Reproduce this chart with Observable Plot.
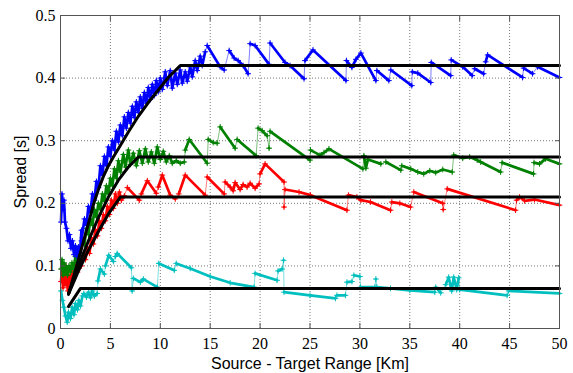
<!DOCTYPE html>
<html>
<head>
<meta charset="utf-8">
<script src="https://cdn.jsdelivr.net/npm/d3@7"></script>
<script src="https://cdn.jsdelivr.net/npm/@observablehq/plot@0.6"></script>
<style>
  html, body { margin: 0; padding: 0; background: #fff; }
  #chart svg { display: block; }
  g[aria-label="x-axis label"] text, g[aria-label="y-axis label"] text { font-family: "Liberation Sans", Arial, sans-serif; font-size: 16px; }
</style>
</head>
<body>
<div id="chart"></div>
<script>
const xTicks = [0, 5, 10, 15, 20, 25, 30, 35, 40, 45, 50];
const yTicks = [0, 0.1, 0.2, 0.3, 0.4, 0.5];

// Measured series, as runs of [range km, spread s]
const blueRuns = [
  [[0.05,0.17],[0.15,0.215],[0.25,0.19],[0.35,0.205],[0.45,0.17],[0.6,0.16],[0.75,0.14],[0.9,0.15],[1.05,0.128],[1.2,0.14],[1.35,0.118],[1.5,0.132],[1.65,0.115],[1.8,0.13],[1.95,0.12],[2.1,0.157]],
  [[2.1,0.14],[2.4,0.175],[2.6,0.165],[2.8,0.195],[3.0,0.185],[3.2,0.215],[3.4,0.205],[3.6,0.235],[3.8,0.225],[4.0,0.26],[4.2,0.245],[4.4,0.275],[4.6,0.26],[4.8,0.29],[5.0,0.275],[5.2,0.3],[5.4,0.285],[5.6,0.315],[5.8,0.298],[6.0,0.325],[6.2,0.308],[6.4,0.338],[6.6,0.32],[6.8,0.345],[7.0,0.328],[7.2,0.355],[7.4,0.337],[7.6,0.362],[7.8,0.345],[8.0,0.37],[8.2,0.352],[8.4,0.377],[8.6,0.36],[8.8,0.385],[9.0,0.366],[9.2,0.39],[9.4,0.372],[9.6,0.396],[9.8,0.378],[10.0,0.4],[10.2,0.382],[10.5,0.41],[10.7,0.388],[11.0,0.412],[11.2,0.384],[11.5,0.408],[11.7,0.39],[12.0,0.413],[12.2,0.392],[12.5,0.41],[12.7,0.395],[13.0,0.418],[13.2,0.402],[13.5,0.428],[13.7,0.412],[14.0,0.435],[14.2,0.42],[14.5,0.442]],
  [[14.7,0.452],[16.0,0.418],[16.4,0.413]],
  [[16.9,0.444],[17.4,0.432],[17.8,0.428],[18.3,0.42],[18.8,0.407]],
  [[19.0,0.455],[19.5,0.452],[20.9,0.422]],
  [[21.0,0.456],[22.5,0.425],[23.0,0.42],[24.4,0.399]],
  [[24.5,0.428],[25.3,0.445],[28.6,0.396]],
  [[28.65,0.428],[29.2,0.417],[29.6,0.43],[30.1,0.44],[31.6,0.396]],
  [[31.7,0.412],[32.9,0.396]],
  [[33.1,0.413],[35.2,0.388]],
  [[35.25,0.41],[35.8,0.408],[37.1,0.393]],
  [[37.15,0.425],[39.1,0.404]],
  [[39.15,0.429],[40.3,0.418],[41.25,0.404]],
  [[41.5,0.415],[42.4,0.407]],
  [[42.6,0.426],[42.8,0.437],[46.3,0.401]],
  [[46.4,0.416],[47.3,0.407]],
  [[47.8,0.418],[50,0.401]]
];
const greenRuns = [
  [[0.05,0.095],[0.15,0.11],[0.25,0.085],[0.35,0.105],[0.45,0.088],[0.55,0.1],[0.7,0.085],[0.85,0.1],[1.0,0.09],[1.15,0.105],[1.3,0.095],[1.5,0.115],[1.65,0.105],[1.8,0.13],[2.0,0.12],[2.2,0.145],[2.4,0.135],[2.6,0.16],[2.8,0.15],[3.0,0.175],[3.2,0.165],[3.4,0.19],[3.6,0.178],[3.8,0.2],[4.0,0.19],[4.2,0.215],[4.4,0.203],[4.6,0.228],[4.8,0.215],[5.0,0.24],[5.2,0.228],[5.4,0.255],[5.6,0.24],[5.8,0.268],[6.0,0.25],[6.3,0.278],[6.5,0.258],[6.8,0.285],[7.0,0.262],[7.3,0.28],[7.6,0.26],[7.9,0.284],[8.2,0.264],[8.5,0.287],[8.8,0.266],[9.1,0.282],[9.4,0.264],[9.7,0.29],[10.0,0.27],[10.3,0.283],[10.6,0.266],[10.9,0.276],[11.2,0.264],[11.6,0.268],[12.0,0.264],[12.4,0.266]],
  [[12.5,0.285],[12.9,0.302],[14.7,0.264]],
  [[14.8,0.302],[15.3,0.297],[15.7,0.296]],
  [[16.0,0.322],[17.5,0.288]],
  [[17.7,0.302],[19.6,0.276]],
  [[19.8,0.32],[20.2,0.316],[20.7,0.308]],
  [[20.9,0.288]],
  [[21.0,0.315],[25.0,0.269]],
  [[25.05,0.285],[26.0,0.277],[26.4,0.281],[26.9,0.287],[30.3,0.255]],
  [[30.4,0.276],[30.6,0.256],[30.8,0.27],[32.1,0.263]],
  [[32.6,0.266],[34.1,0.253]],
  [[34.2,0.26],[35.1,0.255],[35.8,0.25],[36.4,0.247],[37.0,0.252],[37.6,0.249],[38.3,0.254],[39.25,0.25]],
  [[39.4,0.277],[40.3,0.272],[41.0,0.274],[41.75,0.269],[42.1,0.266],[44.1,0.25]],
  [[44.25,0.265],[47.4,0.247]],
  [[47.45,0.265],[48.0,0.263],[48.6,0.271],[50,0.263]]
];
const redRuns = [
  [[0.05,0.075],[0.15,0.095],[0.25,0.065],[0.35,0.088],[0.45,0.07],[0.55,0.1],[0.65,0.072],[0.75,0.06],[0.85,0.085],[1.0,0.072],[1.15,0.092],[1.3,0.08],[1.5,0.1],[1.7,0.09],[1.9,0.11],[2.1,0.1],[2.3,0.12],[2.5,0.11],[2.7,0.13],[2.9,0.12],[3.1,0.145],[3.3,0.135],[3.5,0.158],[3.7,0.148],[3.9,0.172],[4.1,0.16],[4.3,0.182],[4.5,0.172],[4.7,0.195],[4.9,0.182],[5.1,0.205],[5.3,0.192],[5.5,0.215],[5.7,0.2],[5.9,0.218],[6.1,0.205],[6.4,0.212]],
  [[6.7,0.225],[7.9,0.205]],
  [[8.1,0.215],[8.7,0.236],[9.6,0.216]],
  [[9.8,0.226],[10.2,0.245],[11.0,0.213],[11.5,0.207]],
  [[11.85,0.215],[12.5,0.245],[14.5,0.213]],
  [[14.7,0.242],[16.4,0.215]],
  [[16.5,0.234],[17.0,0.226],[17.3,0.22],[17.5,0.233],[18.0,0.222],[18.3,0.23],[18.7,0.226],[19.0,0.232],[19.5,0.224],[19.9,0.231]],
  [[20.0,0.247],[20.5,0.263],[22.4,0.234]],
  [[22.4,0.194]],
  [[22.5,0.222],[23.9,0.218],[25.05,0.213],[28.7,0.189]],
  [[28.85,0.213],[29.7,0.21],[30.1,0.205],[31.06,0.202],[33.07,0.189]],
  [[33.2,0.202],[34.0,0.2],[35.07,0.194]],
  [[35.4,0.218],[38.3,0.2]],
  [[38.35,0.19]],
  [[38.75,0.223],[45.6,0.189]],
  [[45.7,0.205],[46.0,0.21],[46.5,0.204],[47.5,0.206],[50,0.197]]
];
const cyanRuns = [
  [[0.05,0.06],[0.2,0.045],[0.33,0.034],[0.5,0.02],[0.67,0.01],[0.8,0.026],[1.0,0.016],[1.17,0.034],[1.35,0.022],[1.5,0.04],[1.7,0.03],[1.84,0.045],[2.0,0.036],[2.2,0.052],[2.34,0.056],[2.6,0.05],[2.8,0.058],[3.0,0.049],[3.2,0.06],[3.4,0.052],[3.67,0.056]],
  [[3.75,0.076],[4.0,0.095],[4.4,0.087]],
  [[4.5,0.1],[4.84,0.117],[5.3,0.107]],
  [[5.5,0.115],[5.68,0.12],[7.1,0.097]],
  [[7.18,0.06]],
  [[7.3,0.08],[8.0,0.074],[8.3,0.079],[9.7,0.066]],
  [[9.85,0.104],[11.4,0.093]],
  [[11.6,0.104],[13.0,0.096],[15.0,0.083],[17.0,0.073],[19.4,0.066]],
  [[19.5,0.088],[21.7,0.077]],
  [[21.8,0.092],[22.2,0.095]],
  [[22.35,0.109]],
  [[22.4,0.058],[25.0,0.053],[27.55,0.048]],
  [[27.7,0.053],[28.55,0.053]],
  [[28.7,0.074],[29.2,0.075]],
  [[29.4,0.085],[30.0,0.083]],
  [[30.06,0.066],[31.5,0.066]],
  [[31.6,0.079]],
  [[31.7,0.066],[33.07,0.064],[35.0,0.061],[37.5,0.058]],
  [[37.6,0.066],[38.1,0.057]],
  [[38.6,0.07],[38.9,0.082],[39.2,0.06],[39.4,0.082],[39.7,0.062],[39.9,0.081]],
  [[40.0,0.062],[44.75,0.053]],
  [[44.9,0.06],[50,0.056]]
];

// Model curves (black)
const blueModel = [[0.8,0.055],[1.8,0.11],[2.8,0.168],[3.3,0.198],[3.8,0.222],[4.3,0.243],[4.8,0.26],[5.3,0.274],[5.8,0.287],[6.8,0.314],[7.8,0.339],[8.8,0.361],[9.8,0.381],[10.8,0.401],[12,0.42],[50,0.42]];
const greenModel = [[0.8,0.055],[1.8,0.1],[2.8,0.14],[3.8,0.177],[4.8,0.21],[5.8,0.237],[6.8,0.258],[7.8,0.274],[50,0.274]];
const redModel = [[0.8,0.055],[1.8,0.092],[2.8,0.125],[3.8,0.155],[4.8,0.183],[6.0,0.21],[50,0.21]];
const cyanModel = [[0.8,0.035],[2.0,0.064],[50,0.064]];

const seriesColors = {cyan: "#00bfbf", red: "#ff0000", green: "#008000", blue: "#0000ff"};

function rowsOf(runs) {
  return runs.flatMap((run, i) => run.map(([x, y]) => ({x, y, run: i})));
}
function seriesMarks(runs, color) {
  const rows = rowsOf(runs);
  return [
    Plot.line(rows, {x: "x", y: "y", stroke: color, strokeWidth: 1, strokeOpacity: 0.5}),
    Plot.line(rows, {x: "x", y: "y", z: "run", stroke: color, strokeWidth: 2.7}),
    Plot.dot(rows, {x: "x", y: "y", symbol: "plus", r: 2, stroke: color, strokeWidth: 1})
  ];
}
function modelMark(model) {
  return Plot.line(model.map(([x, y]) => ({x, y})), {x: "x", y: "y", stroke: "black", strokeWidth: 3});
}

const chart = Plot.plot({
  width: 573,
  height: 373,
  marginLeft: 60,
  marginRight: 14,
  marginTop: 15,
  marginBottom: 45,
  style: {fontFamily: "'Liberation Serif', 'Times New Roman', serif", fontSize: "16px", background: "#fff"},
  x: {domain: [0, 50]},
  y: {domain: [0, 0.5]},
  marks: [
    Plot.gridX(xTicks, {stroke: "#777", strokeOpacity: 1, strokeDasharray: "1,2"}),
    Plot.gridY(yTicks, {stroke: "#777", strokeOpacity: 1, strokeDasharray: "1,2"}),
    ...seriesMarks(cyanRuns, seriesColors.cyan),
    ...seriesMarks(redRuns, seriesColors.red),
    ...seriesMarks(greenRuns, seriesColors.green),
    ...seriesMarks(blueRuns, seriesColors.blue),
    modelMark(cyanModel),
    modelMark(redModel),
    modelMark(greenModel),
    modelMark(blueModel),
    Plot.frame({stroke: "#555"}),
    Plot.axisX(xTicks, {anchor: "bottom", tickSize: 0, tickPadding: 9, tickFormat: d => String(d), label: "Source - Target Range [Km]", labelAnchor: "center", labelArrow: "none", labelOffset: 40}),
    Plot.axisY(yTicks, {anchor: "left", tickSize: 0, tickPadding: 5, tickFormat: d => String(d), label: "Spread [s]", labelAnchor: "center", labelArrow: "none", labelOffset: 46}),
    Plot.axisX(xTicks, {anchor: "bottom", tickSize: -5, text: null, label: null, stroke: "#555"}),
    Plot.axisX(xTicks, {anchor: "top", tickSize: -5, text: null, label: null, stroke: "#555"}),
    Plot.axisY(yTicks, {anchor: "left", tickSize: -5, text: null, label: null, stroke: "#555"}),
    Plot.axisY(yTicks, {anchor: "right", tickSize: -5, text: null, label: null, stroke: "#555"})
  ]
});
document.getElementById("chart").appendChild(chart);
</script>
</body>
</html>
